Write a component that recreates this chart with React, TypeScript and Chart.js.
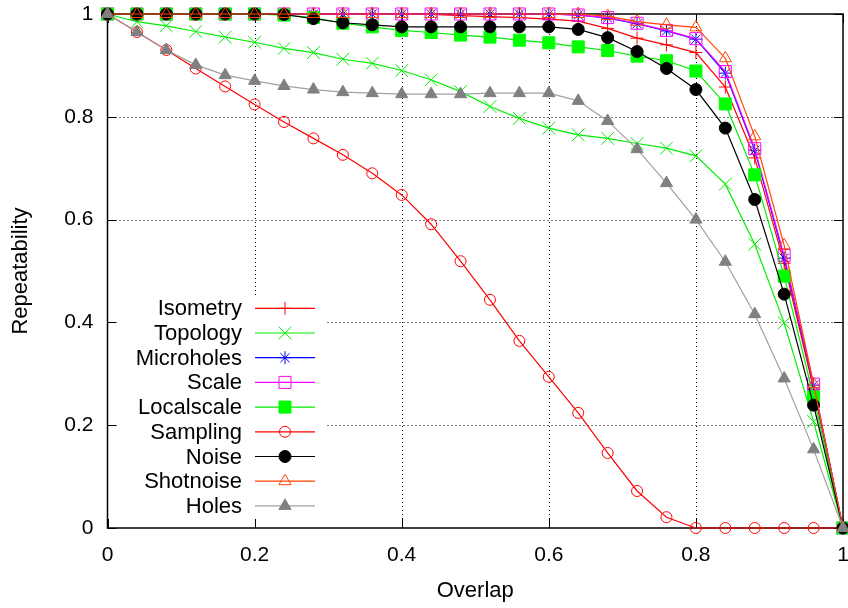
import React, { useEffect, useRef } from "react";
import { Chart, registerables } from "chart.js";

Chart.register(...registerables);

// ---------- data ----------
const overlap = [0, 0.04, 0.08, 0.12, 0.16, 0.2, 0.24, 0.28, 0.32, 0.36, 0.4, 0.44, 0.48, 0.52, 0.56, 0.6, 0.64, 0.68, 0.72, 0.76, 0.8, 0.84, 0.88, 0.92, 0.96, 1];

const isometry = [1, 1, 1, 1, 1, 1, 1, 1, 1, 1, 1, 0.999, 0.997, 0.995, 0.993, 0.99, 0.986, 0.972, 0.953, 0.94, 0.925, 0.858, 0.72, 0.515, 0.27, 0];
const topology = [1, 0.985, 0.977, 0.966, 0.955, 0.945, 0.933, 0.925, 0.912, 0.904, 0.89, 0.872, 0.849, 0.82, 0.797, 0.778, 0.765, 0.758, 0.748, 0.739, 0.724, 0.669, 0.552, 0.399, 0.207, 0];
const microholes = [1, 1, 1, 1, 1, 1, 1, 1, 1, 1, 1, 1, 1, 1, 1, 1, 0.998, 0.992, 0.981, 0.967, 0.951, 0.885, 0.735, 0.525, 0.278, 0];
const scale = [1, 1, 1, 1, 1, 1, 1, 1, 1, 1, 1, 1, 1, 1, 1, 1, 0.998, 0.993, 0.982, 0.968, 0.952, 0.888, 0.738, 0.53, 0.28, 0];
const localscale = [1, 1, 1, 1, 1, 1, 0.998, 0.993, 0.982, 0.975, 0.968, 0.964, 0.959, 0.955, 0.949, 0.944, 0.936, 0.929, 0.918, 0.909, 0.889, 0.825, 0.687, 0.49, 0.255, 0];
const sampling = [1, 0.965, 0.93, 0.894, 0.859, 0.824, 0.79, 0.758, 0.726, 0.69, 0.648, 0.591, 0.519, 0.444, 0.364, 0.294, 0.224, 0.146, 0.072, 0.021, 0, 0, 0, 0, 0, 0];
const noise = [1, 1, 1, 1, 1, 1, 0.999, 0.991, 0.983, 0.979, 0.975, 0.975, 0.975, 0.975, 0.975, 0.975, 0.97, 0.954, 0.927, 0.894, 0.853, 0.778, 0.639, 0.455, 0.239, 0];
const shotnoise = [1, 1, 1, 1, 1, 1, 1, 1, 1, 1, 1, 1, 1, 1, 1, 1, 1, 0.996, 0.985, 0.979, 0.974, 0.914, 0.762, 0.55, 0.28, 0];
const holes = [1, 0.965, 0.93, 0.901, 0.881, 0.87, 0.86, 0.853, 0.848, 0.846, 0.844, 0.844, 0.844, 0.846, 0.846, 0.846, 0.831, 0.792, 0.737, 0.671, 0.6, 0.518, 0.416, 0.291, 0.153, 0];

const xTicks = [0, 0.2, 0.4, 0.6, 0.8, 1];
const yTicks = [0, 0.2, 0.4, 0.6, 0.8, 1];
const gridValues = [0.2, 0.4, 0.6, 0.8];

const xTitle = "Overlap";
const yTitle = "Repeatability";

// ---------- styles ----------
const FONT = '"Liberation Sans", Arial, Helvetica, sans-serif';

type Series = {
  label: string;
  data: number[];
  line: string;
  stroke: string;
  fill: string;
  style: string;
  r: number;
};

const series: Series[] = [
  { label: "Isometry", data: isometry, line: "#ff0000", stroke: "#ff0000", fill: "rgba(0,0,0,0)", style: "cross", r: 6.5 },
  { label: "Topology", data: topology, line: "#00ee00", stroke: "#00ee00", fill: "rgba(0,0,0,0)", style: "crossRot", r: 9 },
  { label: "Microholes", data: microholes, line: "#0000ff", stroke: "#0000ff", fill: "rgba(0,0,0,0)", style: "star", r: 6.5 },
  { label: "Scale", data: scale, line: "#ff00ff", stroke: "#ff00ff", fill: "rgba(0,0,0,0)", style: "rect", r: 8.5 },
  { label: "Localscale", data: localscale, line: "#00ee00", stroke: "#00ff00", fill: "#00ff00", style: "rect", r: 8.5 },
  { label: "Sampling", data: sampling, line: "#ff0000", stroke: "#ff0000", fill: "rgba(0,0,0,0)", style: "circle", r: 5.5 },
  { label: "Noise", data: noise, line: "#000000", stroke: "#000000", fill: "#000000", style: "circle", r: 6 },
  { label: "Shotnoise", data: shotnoise, line: "#ff4500", stroke: "#ff4500", fill: "rgba(0,0,0,0)", style: "triangle", r: 7 },
  { label: "Holes", data: holes, line: "#a0a0a0", stroke: "#808080", fill: "#808080", style: "triangle", r: 7 },
];

function drawMarker(ctx: CanvasRenderingContext2D, s: Series, x: number, y: number) {
  const r = s.r;
  ctx.save();
  ctx.strokeStyle = s.stroke;
  ctx.fillStyle = s.fill;
  ctx.lineWidth = 1;
  ctx.beginPath();
  if (s.style === "cross" || s.style === "star") {
    ctx.moveTo(x, y - r);
    ctx.lineTo(x, y + r);
    ctx.moveTo(x - r, y);
    ctx.lineTo(x + r, y);
  }
  if (s.style === "crossRot" || s.style === "star") {
    const d = r * Math.SQRT1_2;
    ctx.moveTo(x - d, y - d);
    ctx.lineTo(x + d, y + d);
    ctx.moveTo(x - d, y + d);
    ctx.lineTo(x + d, y - d);
  }
  if (s.style === "cross" || s.style === "crossRot" || s.style === "star") {
    ctx.stroke();
  } else if (s.style === "rect") {
    const h = r * Math.SQRT1_2;
    ctx.rect(x - h, y - h, 2 * h, 2 * h);
    ctx.fill();
    ctx.stroke();
  } else if (s.style === "circle") {
    ctx.arc(x, y, r, 0, Math.PI * 2);
    ctx.fill();
    ctx.stroke();
  } else if (s.style === "triangle") {
    let a = 0;
    ctx.moveTo(x + Math.sin(a) * r, y - Math.cos(a) * r);
    a += (2 * Math.PI) / 3;
    ctx.lineTo(x + Math.sin(a) * r, y - Math.cos(a) * r);
    a += (2 * Math.PI) / 3;
    ctx.lineTo(x + Math.sin(a) * r, y - Math.cos(a) * r);
    ctx.closePath();
    ctx.fill();
    ctx.stroke();
  }
  ctx.restore();
}

const framePlugin = {
  id: "gnuplotFrame",
  beforeDatasetsDraw(chart: any) {
    const { ctx, chartArea: a, scales } = chart;
    const xs = scales.x;
    const ys = scales.y;
    ctx.save();
    // dotted grid
    ctx.strokeStyle = "#000";
    ctx.lineWidth = 1;
    ctx.setLineDash([1, 3]);
    for (const v of gridValues) {
      const px = Math.round(xs.getPixelForValue(v)) + 0.5;
      ctx.beginPath();
      ctx.moveTo(px, a.top);
      ctx.lineTo(px, a.bottom);
      ctx.stroke();
      const py = Math.round(ys.getPixelForValue(v)) + 0.5;
      ctx.beginPath();
      ctx.moveTo(a.left, py);
      ctx.lineTo(a.right, py);
      ctx.stroke();
    }
    ctx.setLineDash([]);
    // legend background box
    ctx.fillStyle = "#fff";
    ctx.fillRect(a.left + 1, 295, 326 - a.left - 1, 519 - 295);
    // ticks (inward)
    ctx.strokeStyle = "#000";
    ctx.lineWidth = 1;
    const tl = 9;
    for (const v of xTicks) {
      const px = Math.round(xs.getPixelForValue(v)) + 0.5;
      ctx.beginPath();
      ctx.moveTo(px, a.bottom);
      ctx.lineTo(px, a.bottom - tl);
      ctx.moveTo(px, a.top);
      ctx.lineTo(px, a.top + tl);
      ctx.stroke();
    }
    for (const v of yTicks) {
      const py = Math.round(ys.getPixelForValue(v)) + 0.5;
      ctx.beginPath();
      ctx.moveTo(a.left, py);
      ctx.lineTo(a.left + tl, py);
      ctx.moveTo(a.right, py);
      ctx.lineTo(a.right - tl, py);
      ctx.stroke();
    }
    // border
    ctx.lineWidth = 1.5;
    ctx.strokeRect(a.left, a.top, a.right - a.left, a.bottom - a.top);
    ctx.restore();
  },
  afterDatasetsDraw(chart: any) {
    const { ctx, chartArea: a } = chart;
    ctx.save();
    // legend
    ctx.font = `22px ${FONT}`;
    ctx.textAlign = "right";
    ctx.textBaseline = "middle";
    series.forEach((s, i) => {
      const yy = 308.3 + i * 24.7;
      ctx.fillStyle = "#000";
      ctx.fillText(s.label, 242, yy + 1);
      ctx.strokeStyle = s.line;
      ctx.lineWidth = 1.2;
      ctx.beginPath();
      ctx.moveTo(255, yy);
      ctx.lineTo(315, yy);
      ctx.stroke();
      drawMarker(ctx, s, 285, yy);
    });
    // axis titles
    ctx.fillStyle = "#000";
    ctx.textAlign = "center";
    ctx.textBaseline = "middle";
    ctx.fillText(xTitle, (a.left + a.right) / 2, 591);
    ctx.translate(21, (a.top + a.bottom) / 2);
    ctx.rotate(-Math.PI / 2);
    ctx.fillText(yTitle, 0, 0);
    ctx.restore();
  },
};

export default function App() {
  const canvasRef = useRef<HTMLCanvasElement | null>(null);

  useEffect(() => {
    const canvas = canvasRef.current;
    if (!canvas) return;
    const n = series.length;
    const chart = new Chart(canvas, {
      type: "line",
      data: {
        datasets: series.map((s, i) => ({
          label: s.label,
          data: overlap.map((x, k) => ({ x, y: s.data[k] })),
          borderColor: s.line,
          borderWidth: 1.2,
          backgroundColor: s.fill,
          pointStyle: s.style as any,
          pointRadius: s.r,
          pointBorderColor: s.stroke,
          pointBackgroundColor: s.fill,
          pointBorderWidth: 1,
          tension: 0,
          fill: false,
          clip: false as any,
          order: n - 1 - i,
        })),
      },
      options: {
        responsive: false,
        animation: false,
        events: [],
        layout: { autoPadding: false, padding: { top: 14, right: 5, bottom: 0, left: 0 } },
        plugins: {
          legend: { display: false },
          tooltip: { enabled: false },
          title: { display: false },
        },
        scales: {
          x: {
            type: "linear",
            min: 0,
            max: 1,
            grid: { display: false, drawTicks: false },
            border: { display: false },
            ticks: {
              padding: 15,
              color: "#000",
              maxRotation: 0,
              autoSkip: false,
              font: { family: FONT, size: 21 },
              callback: (v: any) => String(v),
            },
            afterBuildTicks: (s: any) => {
              s.ticks = xTicks.map((v) => ({ value: v }));
            },
            afterFit: (s: any) => {
              s.height = 80;
              s.paddingLeft = 0;
              s.paddingRight = 0;
            },
          },
          y: {
            type: "linear",
            min: 0,
            max: 1,
            grid: { display: false, drawTicks: false },
            border: { display: false },
            ticks: {
              padding: 14,
              color: "#000",
              autoSkip: false,
              font: { family: FONT, size: 21 },
              callback: (v: any) => String(v),
            },
            afterBuildTicks: (s: any) => {
              s.ticks = yTicks.map((v) => ({ value: v }));
            },
            afterFit: (s: any) => {
              s.width = 107.5;
              s.paddingTop = 0;
              s.paddingBottom = 0;
            },
          },
        },
      },
      plugins: [framePlugin],
    });
    return () => chart.destroy();
  }, []);

  return (
    <div style={{ position: "fixed", left: 0, top: 0, width: 848, height: 608, background: "#fff" }}>
      <canvas ref={canvasRef} width={848} height={608} style={{ display: "block", width: 848, height: 608 }} />
    </div>
  );
}
